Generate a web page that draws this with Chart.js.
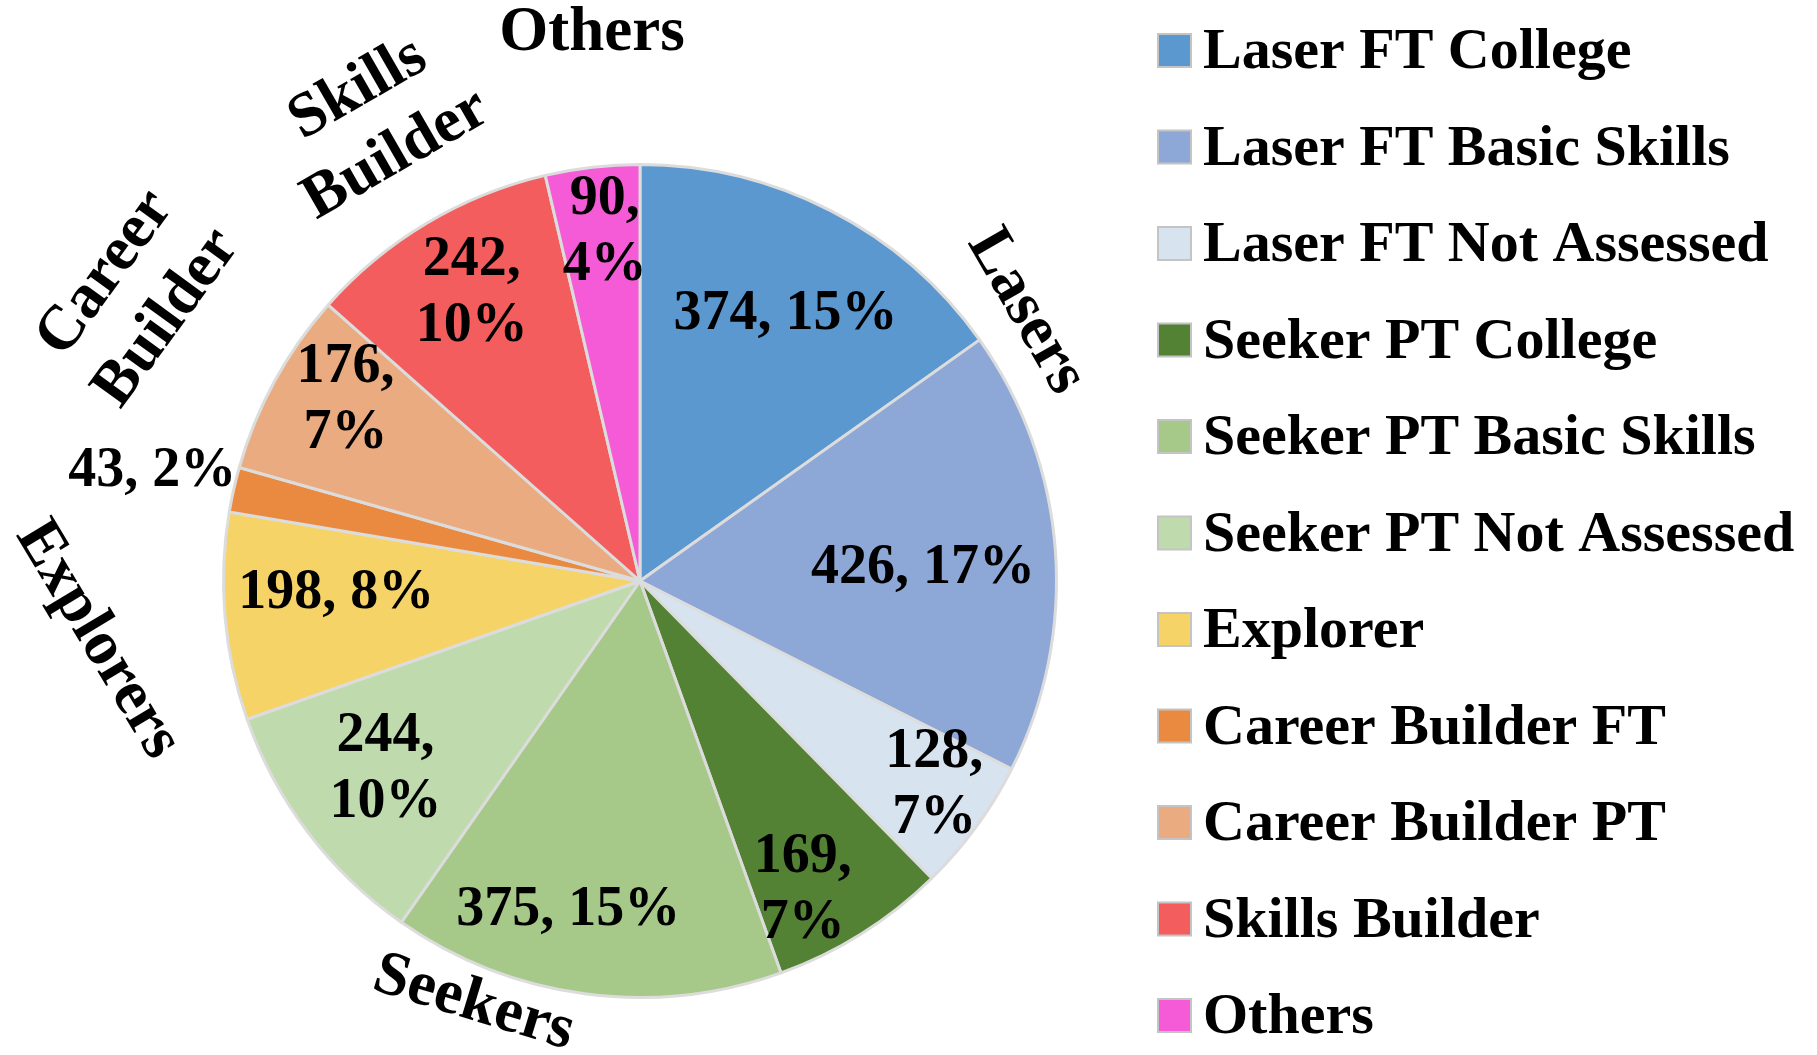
<!DOCTYPE html>
<html>
<head>
<meta charset="utf-8">
<title>Program enrolment pie</title>
<script src="https://cdn.jsdelivr.net/npm/chart.js@4.4.1/dist/chart.umd.min.js"></script>
<style>
  html, body { margin: 0; padding: 0; background: #ffffff; }
  #wrap { width: 1817px; height: 1055px; }
</style>
</head>
<body>
<div id="wrap"><canvas id="pieChart" width="1817" height="1055"></canvas></div>
<script>
// 데이터
const categories = [
  "Laser FT College", "Laser FT Basic Skills", "Laser FT Not Assessed",
  "Seeker PT College", "Seeker PT Basic Skills", "Seeker PT Not Assessed",
  "Explorer", "Career Builder FT", "Career Builder PT", "Skills Builder", "Others"
];
const counts = [374, 426, 128, 169, 375, 244, 198, 43, 176, 242, 90];
const percentLabels = ["15%", "17%", "7%", "7%", "15%", "10%", "8%", "2%", "7%", "10%", "4%"];
const groupNames = ["Lasers", "Seekers", "Explorers", "Career\nBuilder", "Skills\nBuilder", "Others"];

// 스타일
const sliceColors = [
  "#5b98d0", "#8da7d7", "#d8e3f0", "#548235", "#a6c98a", "#bfdbad",
  "#f6d366", "#ea8a40", "#eaab80", "#f35d5d", "#f55bd6"
];
// 라벨 줄바꿈 여부, 반지름 비율, 각도 보정(도)
const labelTwoLines = [false, false, true, true, false, true, false, false, true, true, true];
const labelRadius = [0.73, 0.68, 0.86, 0.84, 0.81, 0.76, 0.73, 1.20, 0.83, 0.80, 0.84];
const labelShift = [1.3, 1.7, -1.4, 4.4, 4.7, 0.7, 2.6, 0, 2.9, 0.5, 0.8];
// 그룹 라벨 위치: [시계방향 각도, 반지름 비율, 글자 회전]
const groupPlace = [[55.1, 1.13, 60], [201.5, 1.09, 17], [263.8, 1.31, 59],
                    [299.5, 1.39, -54], [330.2, 1.27, -30], [355, 1.32, 0]];

const serif = "'Liberation Serif', 'Times New Roman', serif";

// 조각 안의 값 라벨 + 그룹 라벨
const sliceLabels = {
  id: "sliceLabels",
  afterDatasetsDraw(chart) {
    const ctx = chart.ctx;
    const arcs = chart.getDatasetMeta(0).data;
    const cx = arcs[0].x, cy = arcs[0].y, r = arcs[0].outerRadius;
    ctx.save();
    ctx.fillStyle = "#000";
    ctx.textAlign = "center";
    ctx.textBaseline = "middle";
    ctx.font = "bold 56px " + serif;
    arcs.forEach(function (arc, i) {
      const a = (arc.startAngle + arc.endAngle) / 2 + labelShift[i] * Math.PI / 180;
      const x = cx + Math.cos(a) * r * labelRadius[i];
      const y = cy + Math.sin(a) * r * labelRadius[i];
      if (labelTwoLines[i]) {
        ctx.fillText(counts[i] + ",", x, y - 33);
        ctx.fillText(percentLabels[i], x, y + 33);
      } else {
        ctx.fillText(counts[i] + ", " + percentLabels[i], x, y);
      }
    });

    ctx.font = "bold 63px " + serif;
    groupNames.forEach(function (name, i) {
      const p = groupPlace[i];
      const a = (p[0] - 90) * Math.PI / 180;
      const x = cx + Math.cos(a) * r * p[1];
      const y = cy + Math.sin(a) * r * p[1];
      const lines = name.split("\n");
      ctx.save();
      ctx.translate(x, y);
      ctx.rotate(p[2] * Math.PI / 180);
      lines.forEach(function (line, j) {
        ctx.fillText(line, 0, (j - (lines.length - 1) / 2) * 76);
      });
      ctx.restore();
    });
    ctx.restore();
  }
};

// 오른쪽 범례 직접 그리기
const sideLegend = {
  id: "sideLegend",
  afterDraw(chart) {
    const ctx = chart.ctx;
    ctx.save();
    ctx.font = "bold 58px " + serif;
    ctx.textAlign = "left";
    ctx.textBaseline = "alphabetic";
    for (let i = 0; i < categories.length; i++) {
      const base = 68 + i * 96.5;
      ctx.fillStyle = sliceColors[i];
      ctx.fillRect(1158, base - 34, 33, 33);
      ctx.strokeStyle = "#c4c4c4";
      ctx.lineWidth = 2;
      ctx.strokeRect(1158, base - 34, 33, 33);
      ctx.fillStyle = "#000";
      ctx.fillText(categories[i], 1203, base);
    }
    ctx.restore();
  }
};

const ctx = document.getElementById("pieChart").getContext("2d");
const chart = new Chart(ctx, {
  type: "pie",
  data: {
    labels: categories,
    datasets: [{
      data: counts,
      backgroundColor: sliceColors,
      borderColor: "#dcdcdc",
      borderWidth: 3
    }]
  },
  options: {
    responsive: false,
    animation: false,
    devicePixelRatio: 1,
    layout: { padding: { left: 222, right: 759, top: 163, bottom: 56 } },
    plugins: {
      legend: { display: false },
      tooltip: { enabled: false }
    }
  },
  plugins: [sliceLabels, sideLegend]
});
</script>
</body>
</html>
